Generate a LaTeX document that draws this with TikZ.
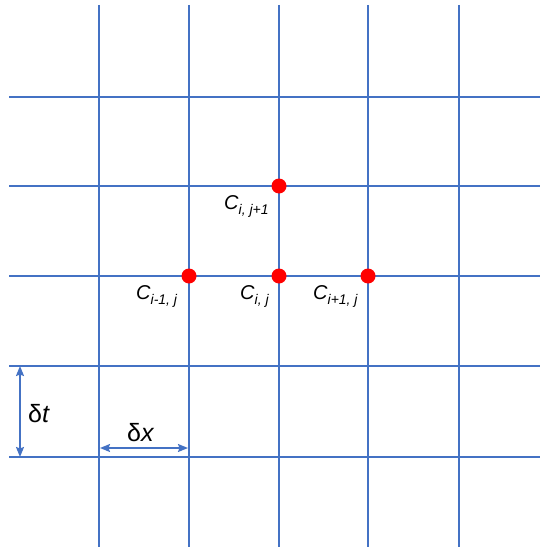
\documentclass[tikz,border=0pt]{standalone}
\usepackage{fontspec}
\setmainfont{Liberation Sans}
\usetikzlibrary{arrows.meta}
\definecolor{gridblue}{HTML}{4472C4}
\definecolor{dotred}{HTML}{FF0000}
\begin{document}
\begin{tikzpicture}[x=1pt,y=-1pt,
  gridline/.style={draw=gridblue,line width=2.2pt},
  dimline/.style={draw=gridblue,line width=1.6pt,{Stealth[length=10pt,width=8pt,inset=1.5pt]}-{Stealth[length=10pt,width=8pt,inset=1.5pt]}},
  gdot/.style={circle,fill=dotred,inner sep=0pt,minimum size=15pt},
  clabel/.style={anchor=base west,inner sep=0pt,font=\fontsize{20}{20}\selectfont\itshape},
  dlabel/.style={anchor=base west,inner sep=0pt,font=\fontsize{25}{25}\selectfont}]
\useasboundingbox (0,0) rectangle (540,551);
% vertical grid lines
\foreach \i/\x in {1/99,2/189,3/279,4/368,5/459}{
  \coordinate (vt\i) at (\x,5);
  \coordinate (vb\i) at (\x,547);
  \draw[gridline] (vt\i) -- (vb\i);
}
% horizontal grid lines
\foreach \j/\y in {1/97,2/186,3/276,4/366,5/457}{
  \coordinate (hl\j) at (9,\y);
  \coordinate (hr\j) at (540,\y);
  \draw[gridline] (hl\j) -- (hr\j);
}
% dots
\node[gdot] (cij1) at (279,186) {};
\node[gdot] (cim) at (189,276) {};
\node[gdot] (cij) at (279,276) {};
\node[gdot] (cip) at (368,276) {};
% labels
\newcommand{\csub}[1]{\raisebox{-5pt}{\fontsize{14}{14}\selectfont\itshape #1}}
\node[clabel] (l1) at (224,209) {C\csub{i, j+1}};
\node[clabel] (l2) at (136,299) {C\csub{i-1, j}};
\node[clabel] (l3) at (240,299) {C\csub{i, j}};
\node[clabel] (l4) at (313,299) {C\csub{i+1, j}};
% dimension arrows
\coordinate (dta) at (20,366);
\coordinate (dtb) at (20,457);
\draw[dimline] (dta) -- (dtb);
\coordinate (dxa) at (100,448);
\coordinate (dxb) at (188,448);
\draw[dimline] (dxa) -- (dxb);
\node[dlabel] (dt) at (28,422) {δ\textit{t}};
\node[dlabel] (dx) at (127,441) {δ\textit{x}};
\end{tikzpicture}
\end{document}
